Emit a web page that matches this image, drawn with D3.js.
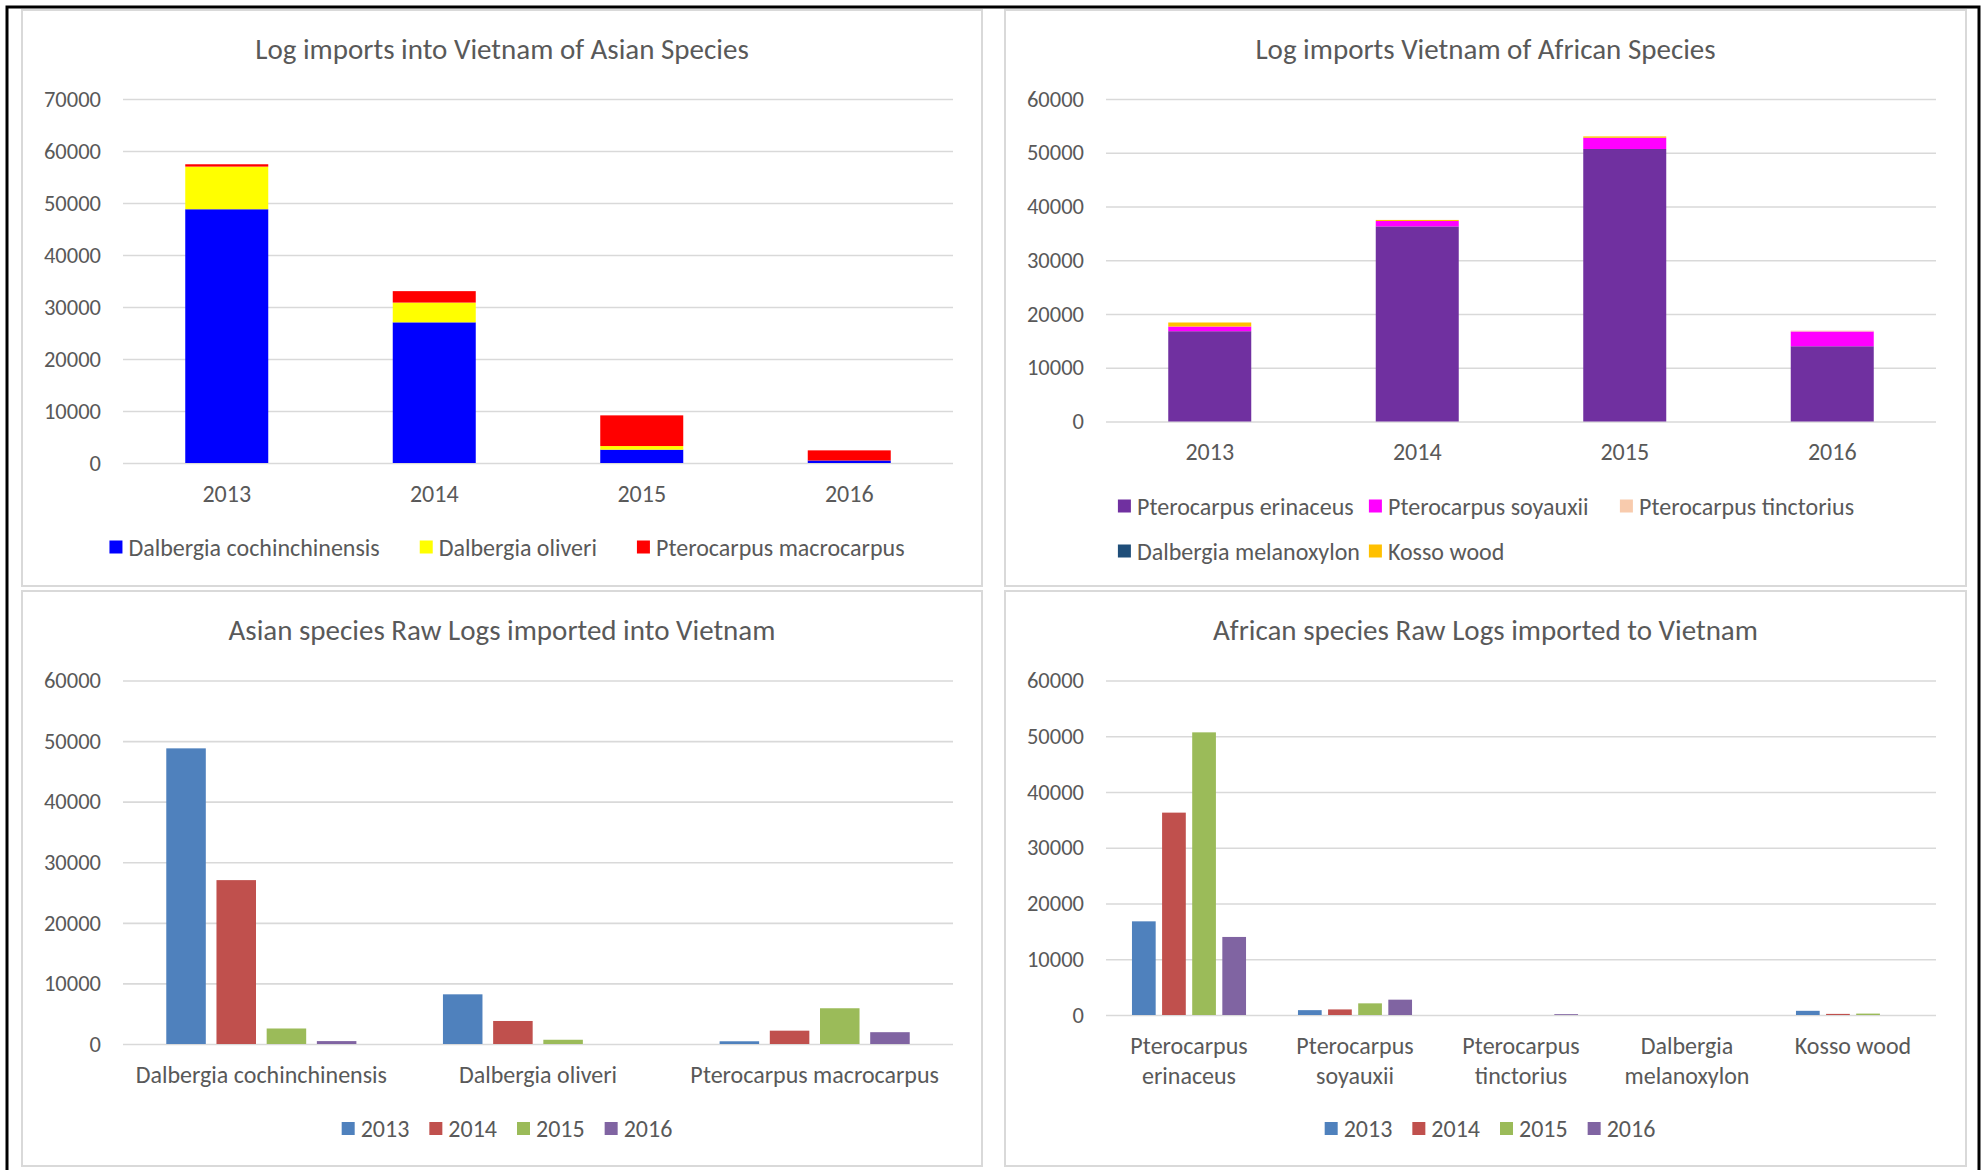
<!DOCTYPE html>
<html>
<head>
<meta charset="utf-8">
<script src="https://cdn.jsdelivr.net/npm/d3@7"></script>
<style>
  body { margin: 0; background: #fff; }
  text { font-family: Carlito, Calibri, Lato, sans-serif; fill: #595959; }
</style>
</head>
<body>
<script>
// ---- data ----
const years = ["2013", "2014", "2015", "2016"];

// Asian species, tonnes per year
const asianSpecies = ["Dalbergia cochinchinensis", "Dalbergia oliveri", "Pterocarpus macrocarpus"];
const dalbergiaCochin = [48800, 27050, 2560, 480];
const dalbergiaOliveri = [8200, 3800, 700, 0];
const pterocarpusMacro = [450, 2200, 5900, 1950];

// African species, tonnes per year
const africanSpecies = ["Pterocarpus erinaceus", "Pterocarpus soyauxii", "Pterocarpus tinctorius", "Dalbergia melanoxylon", "Kosso wood"];
const pterocarpusErin = [16800, 36300, 50700, 14000];
const pterocarpusSoy = [870, 1000, 2090, 2750];
const pterocarpusTinct = [0, 0, 0, 150];
const dalbergiaMelan = [0, 0, 0, 0];
const kossoWood = [750, 200, 250, 0];

const asianTicks = [0, 10000, 20000, 30000, 40000, 50000, 60000, 70000];
const africanTicks = [0, 10000, 20000, 30000, 40000, 50000, 60000];

const asianColors = ["#0000ff", "#ffff00", "#ff0000"];
const africanColors = ["#7030a0", "#ff00ff", "#f8cbad", "#1f4e79", "#ffc000"];
const yearColors = ["#4f81bd", "#c0504d", "#9bbb59", "#8064a2"];

const asianValues = [dalbergiaCochin, dalbergiaOliveri, pterocarpusMacro];
const africanValues = [pterocarpusErin, pterocarpusSoy, pterocarpusTinct, dalbergiaMelan, kossoWood];

// ---- canvas ----
const width = 1982, height = 1170;
const svg = d3.select("body").append("svg")
  .attr("width", width)
  .attr("height", height);

svg.append("rect").attr("width", width).attr("height", height).attr("fill", "#fff");

// outer black frame (left, top, right)
svg.append("path")
  .attr("d", "M7,1170 V7 H1979 V1170")
  .attr("fill", "none")
  .attr("stroke", "#000")
  .attr("stroke-width", 3);

const gridColor = "#d9d9d9";
const labelSize = "24px", tickSize = "22.5px", titleSize = "29px";

function drawPanel(p) {
  const g = svg.append("g");

  g.append("rect")
    .attr("x", p.box[0]).attr("y", p.box[1])
    .attr("width", p.box[2] - p.box[0]).attr("height", p.box[3] - p.box[1])
    .attr("fill", "#fff").attr("stroke", gridColor).attr("stroke-width", 2);

  g.append("text")
    .attr("x", (p.box[0] + p.box[2]) / 2)
    .attr("y", p.box[1] + 39)
    .attr("text-anchor", "middle")
    .attr("dominant-baseline", "central")
    .style("font-size", titleSize)
    .text(p.title);

  const x = d3.scaleBand().domain(p.categories).range([p.left, p.right]);
  const y = d3.scaleLinear().domain([0, d3.max(p.ticks)]).range([p.bottom, p.top]);

  // gridlines
  g.append("g")
    .attr("transform", `translate(${p.left},0)`)
    .call(d3.axisLeft(y).tickValues(p.ticks).tickSize(-(p.right - p.left)).tickFormat(""))
    .call(a => a.select(".domain").remove())
    .call(a => a.selectAll("line").attr("stroke", gridColor).attr("stroke-width", 1.6));

  // y labels
  g.append("g")
    .attr("transform", `translate(${p.left - 22},0)`)
    .call(d3.axisLeft(y).tickValues(p.ticks).tickSize(0).tickPadding(0).tickFormat(d3.format("d")))
    .call(a => a.select(".domain").remove())
    .call(a => a.selectAll("text").style("font-size", tickSize).attr("fill", "#595959"));

  if (p.stacked) {
    const rows = years.map((yr, i) => {
      const r = { year: yr };
      p.keys.forEach((k, j) => r[k] = p.values[j][i]);
      return r;
    });
    const stack = d3.stack().keys(p.keys)(rows);
    const bw = x.bandwidth() * 0.4;
    g.append("g").selectAll("g").data(stack).join("g")
      .attr("fill", (d, i) => p.colors[i])
      .selectAll("rect").data(d => d).join("rect")
      .attr("x", d => x(d.data.year) + (x.bandwidth() - bw) / 2)
      .attr("width", bw)
      .attr("y", d => y(d[1]))
      .attr("height", d => y(d[0]) - y(d[1]));
  } else {
    const bw = x.bandwidth() / 7;
    const step = bw * 1.27;
    const groupW = bw * 4 + (step - bw) * 3;
    const cells = [];
    p.categories.forEach((c, ci) => {
      years.forEach((yr, yi) => cells.push({ cat: c, yi: yi, v: p.values[ci][yi] }));
    });
    g.append("g").selectAll("rect").data(cells).join("rect")
      .attr("fill", d => yearColors[d.yi])
      .attr("x", d => x(d.cat) + (x.bandwidth() - groupW) / 2 + d.yi * step)
      .attr("width", bw)
      .attr("y", d => y(d.v))
      .attr("height", d => y(0) - y(d.v));
  }

  // x labels (wrap when wider than band)
  p.categories.forEach(c => {
    const t = g.append("text")
      .attr("x", x(c) + x.bandwidth() / 2)
      .attr("y", p.bottom + 30)
      .attr("text-anchor", "middle")
      .attr("dominant-baseline", "central")
      .style("font-size", labelSize)
      .text(c);
    if (t.node().getComputedTextLength() > x.bandwidth()) {
      const words = c.split(" ");
      t.text(null);
      words.forEach((w, i) => t.append("tspan")
        .attr("x", x(c) + x.bandwidth() / 2)
        .attr("dy", i === 0 ? 0 : 29.5)
        .text(w));
    }
  });

  // legend
  const leg = g.append("g");
  const items = p.legend.map((name, i) => {
    const it = leg.append("g");
    it.append("rect").attr("width", 13).attr("height", 13).attr("y", -6.5).attr("fill", p.legendColors[i]);
    const tx = it.append("text").attr("x", 19).attr("dominant-baseline", "central")
      .style("font-size", labelSize).text(name);
    return { g: it, w: 19 + tx.node().getComputedTextLength() };
  });
  if (p.legendCols) {
    const cols = p.legendCols;
    const rowW = d3.max(d3.range(0, items.length, cols), s => (Math.min(cols, items.length - s) - 1) * p.legendColW + items[Math.min(s + cols, items.length) - 1].w);
    const x0 = p.legendCenter - rowW / 2;
    items.forEach((it, i) => it.g.attr("transform",
      `translate(${x0 + (i % cols) * p.legendColW},${p.legendY + Math.floor(i / cols) * p.legendRowH})`));
  } else {
    const total = d3.sum(items, d => d.w) + p.legendGap * (items.length - 1);
    let cx = p.legendCenter - total / 2;
    items.forEach(it => {
      it.g.attr("transform", `translate(${cx},${p.legendY})`);
      cx += it.w + p.legendGap;
    });
  }
}

drawPanel({
  box: [22, 10, 982, 586], title: "Log imports into Vietnam of Asian Species",
  left: 123, right: 953, top: 99, bottom: 463, ticks: asianTicks,
  stacked: true, categories: years, keys: asianSpecies, values: asianValues, colors: asianColors,
  legend: asianSpecies, legendColors: asianColors, legendY: 547, legendCenter: 507, legendGap: 40
});

drawPanel({
  box: [1005, 10, 1966, 586], title: "Log imports Vietnam of African Species",
  left: 1106, right: 1936, top: 99, bottom: 421.5, ticks: africanTicks,
  stacked: true, categories: years, keys: africanSpecies, values: africanValues, colors: africanColors,
  legend: africanSpecies, legendColors: africanColors, legendY: 506, legendCenter: 1486,
  legendCols: 3, legendColW: 251, legendRowH: 45
});

drawPanel({
  box: [22, 591, 982, 1166], title: "Asian species Raw Logs imported into Vietnam",
  left: 123, right: 953, top: 680.5, bottom: 1044, ticks: africanTicks,
  stacked: false, categories: asianSpecies, values: asianValues,
  legend: years, legendColors: yearColors, legendY: 1128.5, legendCenter: 507, legendGap: 20
});

drawPanel({
  box: [1005, 591, 1966, 1166], title: "African species Raw Logs imported to Vietnam",
  left: 1106, right: 1936, top: 680.5, bottom: 1015, ticks: africanTicks,
  stacked: false, categories: africanSpecies, values: africanValues,
  legend: years, legendColors: yearColors, legendY: 1128.5, legendCenter: 1490, legendGap: 20
});
</script>
</body>
</html>
